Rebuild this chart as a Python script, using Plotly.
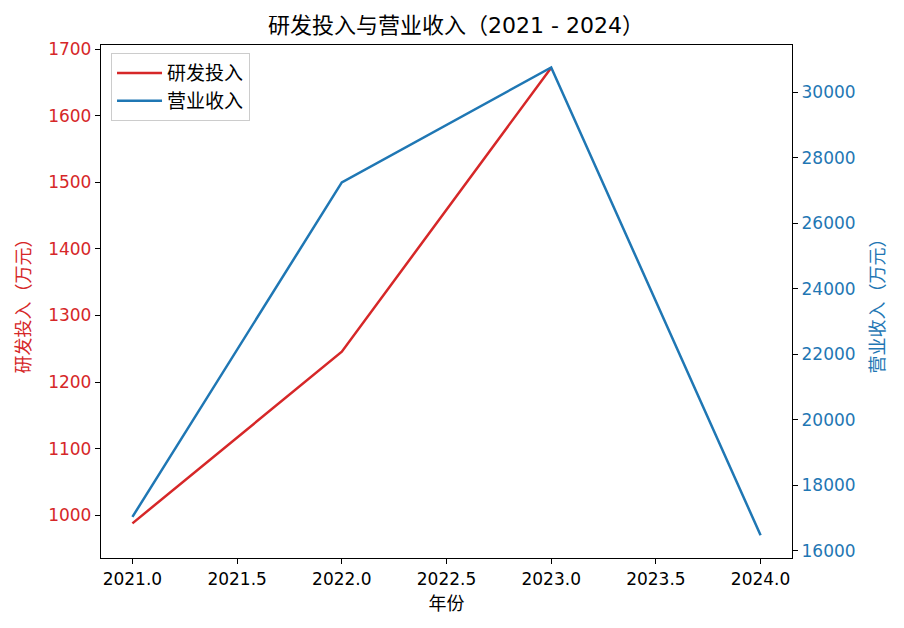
import plotly.graph_objects as go

years = [2021, 2022, 2023, 2024]
rd_invest = [988, 1245.6, 1672, None]
revenue = [17040, 27250, 30760, 16480]

RED = "#d62728"
BLUE = "#1f77b4"
FONT = "DejaVu Sans, Noto Sans CJK SC"

fig = go.Figure()
fig.add_trace(go.Scatter(x=years, y=rd_invest, mode="lines", name="研发投入",
                         line=dict(color=RED, width=2.5), yaxis="y"))
fig.add_trace(go.Scatter(x=years, y=revenue, mode="lines", name="营业收入",
                         line=dict(color=BLUE, width=2.5), yaxis="y2"))

fig.update_layout(
    width=896, height=620,
    margin=dict(l=93, r=112, t=37, b=70),
    paper_bgcolor="white", plot_bgcolor="white",
    font=dict(family=FONT, size=17, color="black"),
    title=dict(text="研发投入与营业收入（2021 - 2024）", x=0.5, xanchor="center",
               y=1 - 17 / 620, yanchor="middle", yref="container",
               font=dict(size=22, color="black")),
    xaxis=dict(range=[2020.85, 2024.15], dtick=0.5, tick0=2021, tickformat=".1f",
               showgrid=False, zeroline=False, showline=True, linecolor="black",
               linewidth=1.3, mirror=True, ticks="outside", ticklen=5,
               tickcolor="black", title=dict(text="年份", standoff=9, font=dict(size=18)),
               tickfont=dict(size=17)),
    yaxis=dict(range=[936, 1706], dtick=100, showgrid=False, zeroline=False,
               showline=True, linecolor="black", linewidth=1.3, ticks="outside",
               ticklen=5, tickcolor="black", tickfont=dict(color=RED, size=17),
               title=dict(text="研发投入（万元）", standoff=12, font=dict(color=RED, size=18))),
    yaxis2=dict(range=[15786, 31445], dtick=2000, tickformat="d", overlaying="y", side="right",
                showgrid=False, zeroline=False, showline=True, linecolor="black",
                linewidth=1.3, ticks="outside", ticklen=5, tickcolor="black",
                tickfont=dict(color=BLUE, size=17),
                title=dict(text="营业收入（万元）", standoff=16, font=dict(color=BLUE, size=18))),
    legend=dict(x=0.0145, y=0.984, xanchor="left", yanchor="top",
                bordercolor="#cccccc", borderwidth=1, bgcolor="rgba(255,255,255,0.8)",
                itemwidth=45, font=dict(size=19)),
    showlegend=True,
)

fig.write_html("out.html")
